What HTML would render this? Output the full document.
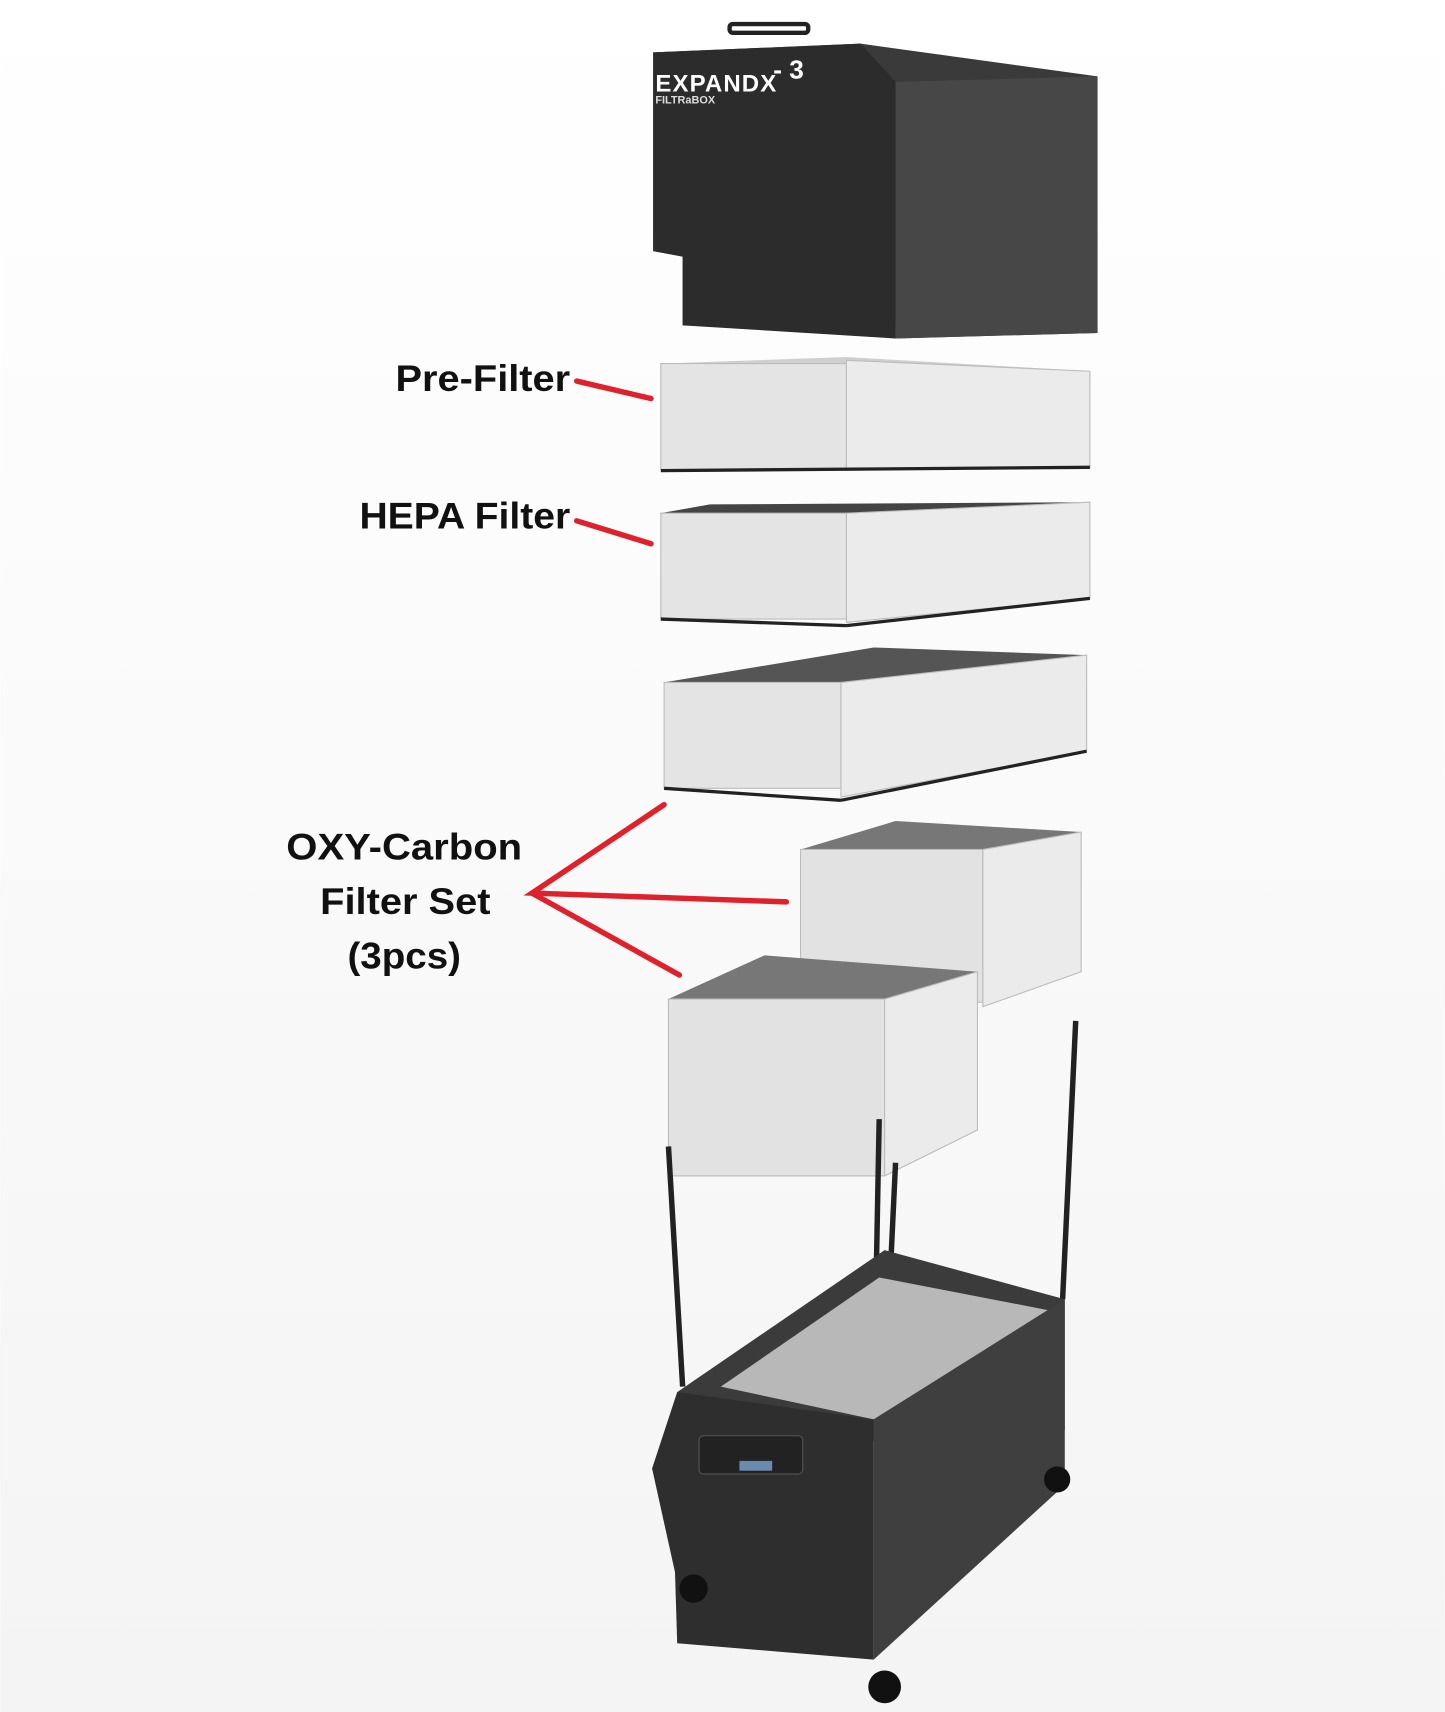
<!DOCTYPE html>
<html><head><meta charset="utf-8"><style>
html,body{margin:0;padding:0;background:#fff;}
svg{display:block}
text{font-family:"Liberation Sans","DejaVu Sans",sans-serif;font-weight:bold;}
</style></head><body>
<svg width="1445" height="1712" viewBox="0 0 1323 1568" xmlns="http://www.w3.org/2000/svg">
<defs>
<linearGradient id="bg" x1="0" y1="0" x2="0" y2="1"><stop offset="0" stop-color="#fff"/><stop offset="1" stop-color="#f4f4f4"/></linearGradient>
</defs>
<rect width="1323" height="1568" fill="url(#bg)"/>
<!-- hood -->
<rect x="668" y="22" width="72" height="8" rx="3" fill="none" stroke="#222" stroke-width="4"/>
<polygon points="598,48 788,40 1005,70 1005,305 820,310 820,295 625,298 625,235 598,230" fill="#3a3a3a"/>
<polygon points="598,48 788,40 820,75 820,310 625,298 625,235 598,230" fill="#2c2c2c"/>
<polygon points="820,75 1005,70 1005,305 820,310" fill="#474747"/>
<text x="600" y="84" font-size="22" fill="#fff" letter-spacing="1">EXPANDX</text>
<text x="708" y="72" font-size="24" fill="#fff" font-family="Liberation Serif" font-weight="normal">- 3</text>
<text x="600" y="95" font-size="10" fill="#ddd" font-weight="normal">FILTRaBOX</text>
<!-- pre-filter -->
<polygon points="605,333 775,327 998,340 775,340" fill="#cfcfcf"/>
<rect x="605" y="333" width="170" height="97" fill="#e4e4e4" stroke="#bbb"/>
<polygon points="775,330 998,340 998,428 775,430" fill="#ebebeb" stroke="#bbb"/>
<line x1="605" y1="431" x2="998" y2="428" stroke="#222" stroke-width="3"/>
<!-- hepa -->
<polygon points="605,470 650,462 998,460 775,470" fill="#444"/>
<rect x="605" y="470" width="170" height="97" fill="#e4e4e4" stroke="#bbb"/>
<polygon points="775,470 998,460 998,548 775,570" fill="#ebebeb" stroke="#bbb"/>
<line x1="605" y1="567" x2="775" y2="573" stroke="#222" stroke-width="3"/>
<line x1="775" y1="573" x2="998" y2="548" stroke="#222" stroke-width="3"/>
<!-- third -->
<polygon points="608,625 800,593 995,600 770,625" fill="#555"/>
<rect x="608" y="625" width="162" height="97" fill="#e4e4e4" stroke="#bbb"/>
<polygon points="770,625 995,600 995,688 770,730" fill="#ebebeb" stroke="#bbb"/>
<line x1="608" y1="722" x2="770" y2="733" stroke="#222" stroke-width="3"/>
<line x1="770" y1="733" x2="995" y2="688" stroke="#222" stroke-width="3"/>
<!-- carbon back -->
<polygon points="733,778 820,752 990,762 900,785" fill="#777"/>
<rect x="733" y="778" width="167" height="140" fill="#e2e2e2" stroke="#bbb"/>
<polygon points="900,778 990,762 990,890 900,922" fill="#ebebeb" stroke="#bbb"/>
<!-- carbon front -->
<polygon points="612,915 700,875 895,890 810,918" fill="#777"/>
<rect x="612" y="915" width="198" height="162" fill="#e2e2e2" stroke="#bbb"/>
<polygon points="810,915 895,890 895,1035 810,1077" fill="#ebebeb" stroke="#bbb"/>
<!-- straps -->
<g stroke="#222" stroke-width="5" fill="none">
<line x1="612" y1="1050" x2="625" y2="1270"/>
<line x1="805" y1="1025" x2="800" y2="1290"/>
<line x1="820" y1="1065" x2="815" y2="1170"/>
<line x1="985" y1="935" x2="973" y2="1190"/>
</g>
<!-- base unit -->
<polygon points="620,1275 810,1145 975,1190 975,1310 800,1320 620,1290" fill="#3b3b3b"/>
<polygon points="660,1270 805,1170 960,1200 800,1300" fill="#b8b8b8"/>
<polygon points="597,1345 620,1275 800,1300 800,1520 620,1505 618,1440" fill="#2e2e2e"/>
<polygon points="800,1300 975,1190 975,1360 800,1520" fill="#3f3f3f"/>
<rect x="640" y="1315" width="95" height="35" rx="4" fill="#222" stroke="#555"/>
<rect x="677" y="1338" width="30" height="9" fill="#6a8ab0"/>
<circle cx="635" cy="1455" r="13" fill="#111"/>
<circle cx="810" cy="1545" r="15" fill="#111"/>
<circle cx="968" cy="1355" r="12" fill="#111"/>
<!-- labels -->
<g fill="#111">
<text x="362" y="358" font-size="34" textLength="160" lengthAdjust="spacingAndGlyphs">Pre-Filter</text>
<text x="329" y="484" font-size="34" textLength="193" lengthAdjust="spacingAndGlyphs">HEPA Filter</text>
<text x="262" y="787" font-size="34" textLength="216" lengthAdjust="spacingAndGlyphs">OXY-Carbon</text>
<text x="293" y="837" font-size="34" textLength="156" lengthAdjust="spacingAndGlyphs">Filter Set</text>
<text x="318" y="887" font-size="34" textLength="104" lengthAdjust="spacingAndGlyphs">(3pcs)</text>
</g>
<g stroke="#e0202a" stroke-width="5" stroke-linecap="round" fill="none">
<line x1="528" y1="349" x2="596" y2="365"/>
<line x1="528" y1="477" x2="596" y2="498"/>
<polyline points="608,737 487,818 720,826"/>
<line x1="487" y1="818" x2="622" y2="893"/>
</g>
</svg>
</body></html>
